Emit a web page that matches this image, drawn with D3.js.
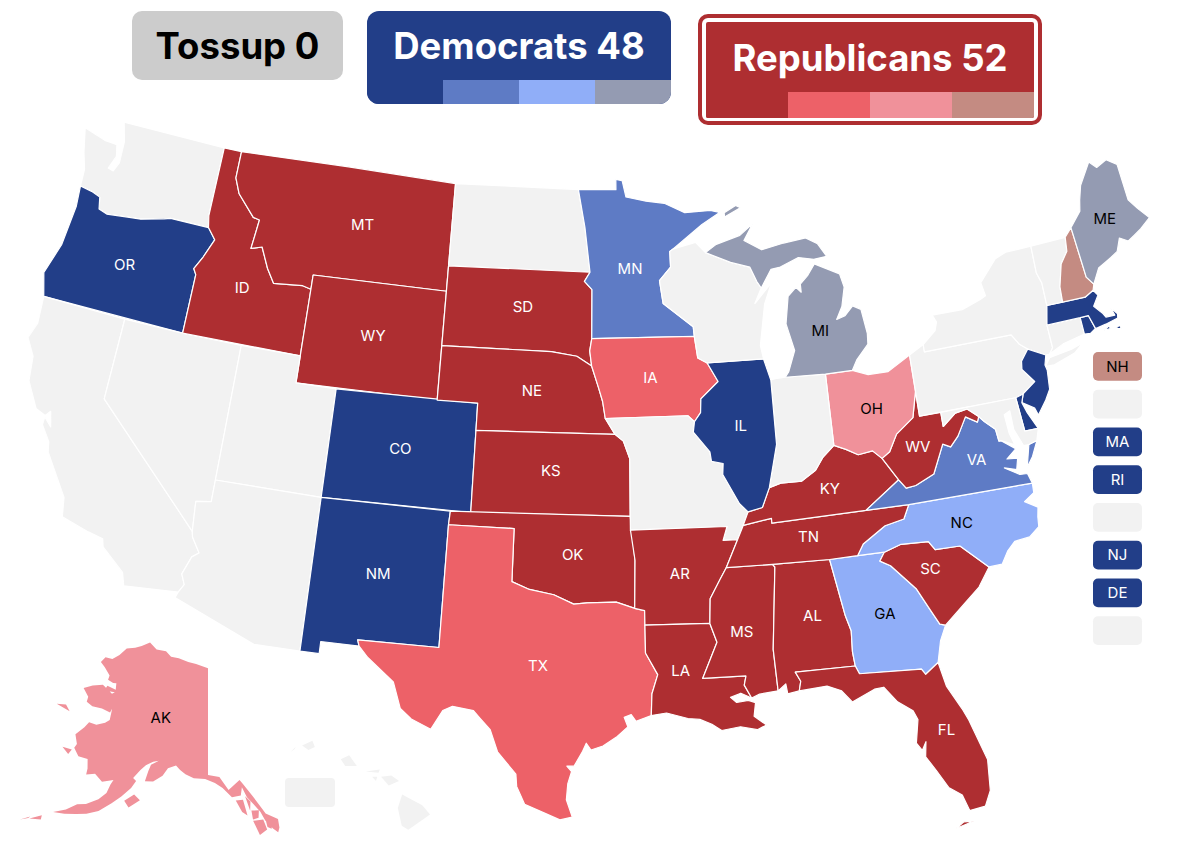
<!DOCTYPE html>
<html>
<head>
<meta charset="utf-8">
<script src="https://cdn.jsdelivr.net/npm/d3@7"></script>
<style>
  html, body { margin: 0; background: #fff; }
  text { font-family: Inter, Roboto, sans-serif; }
</style>
</head>
<body>
<svg id="map" width="1178" height="857"></svg>
<script>
// Race ratings
const solidDem = ['OR', 'CO', 'NM', 'IL', 'MA', 'RI', 'NJ', 'DE'];
const likelyDem = ['MN', 'VA'];
const leanDem = ['NC', 'GA'];
const tiltDem = ['MI', 'ME'];
const solidRep = ['ID', 'MT', 'WY', 'SD', 'NE', 'KS', 'OK', 'AR', 'LA', 'MS', 'AL', 'TN', 'KY', 'WV', 'SC', 'FL'];
const likelyRep = ['IA', 'TX'];
const leanRep = ['OH', 'AK'];
const tiltRep = ['NH'];

const sideStates = ['NH', 'VT', 'MA', 'RI', 'CT', 'NJ', 'DE', 'MD'];
const demSwatches = ['solid', 'likely', 'lean', 'tilt'];
const repSwatches = ['solid', 'likely', 'lean', 'tilt'];
const tossupSeats = 0;
const demSeats = 48;
const repSeats = 52;

// State outlines, lon/lat rings
const outlines = {
  WA: [[[-124.73,48.38],[-123.5,48.15],[-122.8,48.12],[-122.65,47.7],[-122.9,47.2],[-122.6,47.15],[-122.4,47.5],[-122.45,48.3],[-122.76,49],[-117.03,49],[-117.04,46.42],[-116.92,45.99],[-118.98,46],[-119.3,45.93],[-120.5,45.7],[-121.2,45.65],[-122.3,45.55],[-122.76,45.65],[-122.9,46.08],[-123.4,46.2],[-124.05,46.27],[-124.1,46.9],[-124.4,47.5]]],
  OR: [[[-124.2,42],[-124.55,42.84],[-124.1,44],[-123.95,45.5],[-124.05,46.27],[-123.4,46.2],[-122.9,46.08],[-122.76,45.65],[-122.3,45.55],[-121.2,45.65],[-120.5,45.7],[-119.3,45.93],[-118.98,46],[-116.92,45.99],[-116.46,45.6],[-116.85,44.9],[-117.2,44.4],[-117.03,44.2],[-117.03,42]]],
  CA: [[[-124.2,42],[-120,42],[-120,39],[-114.63,35],[-114.57,34.8],[-114.14,34.27],[-114.43,34.08],[-114.72,33.4],[-114.52,33.03],[-114.72,32.72],[-117.12,32.53],[-117.3,33],[-118.4,33.75],[-118.5,34.03],[-119.2,34.15],[-120.5,34.45],[-120.65,35.15],[-121.9,36.6],[-122,36.96],[-122.5,37.5],[-122.5,37.8],[-122.1,37.5],[-122.3,38.05],[-122.5,37.85],[-123,38],[-123.7,38.9],[-123.85,39.8],[-124.35,40.4],[-124.1,41]]],
  NV: [[[-120,42],[-117.03,42],[-114.04,42],[-114.04,36.2],[-114.74,36.1],[-114.63,35],[-120,39]]],
  ID: [[[-117.03,42],[-117.03,44.2],[-117.2,44.4],[-116.85,44.9],[-116.46,45.6],[-116.92,45.99],[-117.04,46.42],[-117.03,49],[-116.05,49],[-116.05,48],[-115.7,47.45],[-114.7,46.7],[-114.35,46.65],[-114.5,45.56],[-113.94,45.69],[-113.45,44.95],[-113,44.45],[-111.5,44.55],[-111.05,44.47],[-111.05,42]]],
  MT: [[[-116.05,49],[-104.05,49],[-104.05,45],[-111.05,45],[-111.05,44.47],[-111.5,44.55],[-113,44.45],[-113.45,44.95],[-113.94,45.69],[-114.5,45.56],[-114.35,46.65],[-114.7,46.7],[-115.7,47.45],[-116.05,48]]],
  WY: [[[-111.05,45],[-104.05,45],[-104.05,41],[-111.05,41]]],
  UT: [[[-114.04,42],[-111.05,42],[-111.05,41],[-109.05,41],[-109.05,37],[-114.04,37]]],
  CO: [[[-109.05,41],[-102.05,41],[-102.05,37],[-109.05,37]]],
  AZ: [[[-114.04,37],[-109.05,37],[-109.05,31.33],[-111.07,31.33],[-114.81,32.5],[-114.72,32.72],[-114.52,33.03],[-114.72,33.4],[-114.43,34.08],[-114.14,34.27],[-114.57,34.8],[-114.63,35],[-114.74,36.1],[-114.04,36.2]]],
  NM: [[[-109.05,37],[-103,37],[-103.04,36.5],[-103.06,32],[-106.62,32],[-106.53,31.78],[-108.21,31.78],[-108.21,31.33],[-109.05,31.33]]],
  ND: [[[-104.05,49],[-97.23,49],[-96.85,47.6],[-96.56,45.94],[-104.05,45.94]]],
  SD: [[[-104.05,45.94],[-96.56,45.94],[-96.85,45.6],[-96.45,45.3],[-96.45,43.5],[-96.55,43.05],[-96.45,42.5],[-97.2,42.85],[-98.5,43],[-104.05,43]]],
  NE: [[[-104.05,43],[-98.5,43],[-97.2,42.85],[-96.45,42.5],[-96.1,41.7],[-95.9,41.2],[-95.77,40.58],[-95.3,40],[-102.05,40],[-102.05,41],[-104.05,41]]],
  KS: [[[-102.05,40],[-95.3,40],[-94.9,39.75],[-94.6,39.1],[-94.62,37],[-102.05,37]]],
  OK: [[[-103,37],[-94.62,37],[-94.43,35.4],[-94.48,33.64],[-95.3,33.88],[-96.6,33.85],[-97.2,33.8],[-98.1,34.13],[-99.2,34.3],[-100,34.56],[-100,36.5],[-103.04,36.5]]],
  TX: [[[-106.62,32],[-103.06,32],[-103.04,36.5],[-100,36.5],[-100,34.56],[-99.2,34.3],[-98.1,34.13],[-97.2,33.8],[-96.6,33.85],[-95.3,33.88],[-94.48,33.64],[-94.04,33.55],[-94.04,33.02],[-94.04,32],[-93.53,31.2],[-93.8,30.5],[-93.85,29.7],[-94.5,29.5],[-94.7,29.75],[-95,29.65],[-94.85,29.3],[-95.3,28.95],[-95.9,28.6],[-96.4,28.45],[-96.6,28.7],[-96.75,28.4],[-97.1,27.85],[-97.4,27.85],[-97.2,27.65],[-97.35,27.2],[-97.4,26.6],[-97.15,25.96],[-97.65,25.85],[-98.3,26.1],[-99.1,26.4],[-99.45,27.05],[-99.5,27.5],[-100.3,28.3],[-100.65,29.1],[-101.1,29.5],[-101.4,29.77],[-102.3,29.88],[-102.7,29.7],[-103.15,28.98],[-104,29.3],[-104.5,29.65],[-104.9,30.6],[-106.1,31.4],[-106.53,31.78]]],
  MN: [[[-97.23,49],[-95.15,49],[-95.15,49.38],[-94.8,49.33],[-94.6,48.72],[-93.5,48.55],[-92.5,48.45],[-91.4,48.07],[-90,48.1],[-89.5,48],[-90.5,47.6],[-92.1,46.75],[-92.3,46.66],[-92.29,46.08],[-92.9,45.6],[-92.75,44.75],[-91.25,43.85],[-91.22,43.5],[-96.45,43.5],[-96.45,45.3],[-96.85,45.6],[-96.56,45.94],[-96.85,47.6]]],
  IA: [[[-96.45,43.5],[-91.22,43.5],[-91.1,42.7],[-90.64,42.5],[-90.15,41.8],[-91.05,41.2],[-91.1,40.7],[-91.42,40.38],[-91.73,40.61],[-95.77,40.58],[-95.9,41.2],[-96.1,41.7],[-96.45,42.5],[-96.55,43.05]]],
  MO: [[[-95.77,40.58],[-91.73,40.61],[-91.42,40.38],[-91.5,40],[-90.75,39.25],[-90.7,38.9],[-90.15,38.8],[-90.2,38.4],[-89.5,37.3],[-89.13,36.98],[-89.4,36.5],[-89.7,36],[-90.37,36],[-90.15,36.5],[-94.62,36.5],[-94.62,37],[-94.6,39.1],[-94.9,39.75],[-95.3,40]]],
  AR: [[[-94.62,36.5],[-90.15,36.5],[-90.37,36],[-89.7,36],[-90.3,35],[-90.6,34.6],[-91.1,33.9],[-91.17,33],[-94.04,33.02],[-94.04,33.55],[-94.48,33.64],[-94.43,35.4]]],
  LA: [[[-94.04,33.02],[-91.17,33],[-90.9,32.3],[-91.6,31],[-89.73,31],[-89.83,30.67],[-89.55,30.18],[-90,30.38],[-90.45,30.25],[-90.2,30.05],[-89.7,30.1],[-89.4,30],[-89.5,29.5],[-89,29.15],[-89.4,29],[-90.1,29.15],[-90.9,29.05],[-91.3,29.3],[-91.8,29.5],[-92.3,29.55],[-93.2,29.78],[-93.85,29.7],[-93.8,30.5],[-93.53,31.2],[-94.04,32]]],
  MS: [[[-90.3,35],[-88.2,35],[-88.1,34.9],[-88.47,31.9],[-88.4,30.37],[-89.2,30.3],[-89.55,30.18],[-89.83,30.67],[-89.73,31],[-91.6,31],[-90.9,32.3],[-91.17,33],[-91.1,33.9],[-90.6,34.6]]],
  AL: [[[-88.2,35],[-85.6,34.98],[-85.18,32.87],[-85,32.3],[-85.05,31.54],[-85,31],[-87.6,31],[-87.4,30.65],[-87.5,30.3],[-88,30.23],[-88.05,30.6],[-88.4,30.37],[-88.47,31.9],[-88.1,34.9]]],
  GA: [[[-85.6,34.98],[-83.1,35],[-83.35,34.7],[-82.9,34.48],[-81.9,33.5],[-81.4,32.6],[-81.12,32.1],[-80.88,32.03],[-81.2,31.5],[-81.45,30.72],[-82.05,30.36],[-82.2,30.57],[-84.86,30.7],[-85,31],[-85.05,31.54],[-85,32.3],[-85.18,32.87]]],
  FL: [[[-87.6,31],[-85,31],[-84.86,30.7],[-82.2,30.57],[-82.05,30.36],[-81.45,30.72],[-81.25,29.8],[-80.75,28.9],[-80.55,28.45],[-80.05,26.9],[-80.15,25.75],[-80.45,25.2],[-81.1,25.13],[-81.3,25.75],[-81.8,26.1],[-82.2,26.8],[-82.55,27.35],[-82.45,27.9],[-82.65,27.6],[-82.85,27.9],[-82.65,28.75],[-82.8,29.1],[-83.4,29.5],[-83.9,30.1],[-84.3,30.07],[-85.3,29.7],[-85.7,30.15],[-86.3,30.38],[-87.5,30.3],[-87.4,30.65]],
       [[-81.75,24.55],[-81,24.72],[-81.4,24.75]]],
  SC: [[[-83.1,35],[-82.3,35.2],[-81.05,35.15],[-80.8,34.82],[-79.67,34.8],[-78.55,33.86],[-79.15,33.2],[-79.9,32.7],[-80.88,32.03],[-81.12,32.1],[-81.4,32.6],[-81.9,33.5],[-82.9,34.48],[-83.35,34.7]]],
  NC: [[[-84.32,35],[-83.1,35],[-82.3,35.2],[-81.05,35.15],[-80.8,34.82],[-79.67,34.8],[-78.55,33.86],[-77.95,33.87],[-77.6,34.3],[-77.2,34.6],[-76.5,34.65],[-76,34.95],[-75.95,35.3],[-75.85,35.65],[-76.4,35.95],[-75.9,36.2],[-75.87,36.55],[-81.68,36.59],[-82,36.1],[-82.9,35.95],[-84,35.4]]],
  TN: [[[-90.3,35],[-88.2,35],[-85.6,34.98],[-84.32,35],[-84,35.4],[-82.9,35.95],[-82,36.1],[-81.68,36.59],[-83.68,36.6],[-88.07,36.5],[-88.07,36.68],[-89.4,36.5],[-89.7,36]]],
  KY: [[[-89.4,36.5],[-88.07,36.68],[-88.07,36.5],[-83.68,36.6],[-81.97,37.54],[-82.6,38.4],[-83,38.72],[-83.7,38.65],[-84.25,38.9],[-84.8,39.1],[-85.4,38.7],[-85.8,38.27],[-86.5,37.93],[-87.5,37.93],[-88.05,37.8],[-88.45,37.1],[-89.13,36.98]]],
  VA: [[[-83.68,36.6],[-81.68,36.59],[-75.87,36.55],[-76,36.93],[-76.35,36.95],[-77,37.3],[-76.45,37.15],[-76.3,37.55],[-76.8,37.6],[-76.3,37.9],[-76.9,38.3],[-77,38.3],[-77.05,38.75],[-77.5,39.1],[-77.72,39.32],[-77.83,39.13],[-78.35,39.4],[-78.87,38.76],[-79.3,38.42],[-79.65,38.57],[-80.3,37.55],[-81.22,37.24],[-81.68,37.2],[-81.97,37.54]],
       [[-75.95,37.15],[-75.65,37.95],[-75.24,38.03],[-75.6,37.5]]],
  WV: [[[-81.97,37.54],[-81.68,37.2],[-81.22,37.24],[-80.3,37.55],[-79.65,38.57],[-79.3,38.42],[-78.87,38.76],[-78.35,39.4],[-77.83,39.13],[-77.72,39.32],[-78.2,39.67],[-78.8,39.6],[-79.48,39.2],[-79.48,39.72],[-80.52,39.72],[-80.52,40.64],[-80.85,39.7],[-81.75,39.2],[-82.2,38.6],[-82.6,38.4]]],
  OH: [[[-84.8,41.72],[-83.45,41.73],[-82.7,41.5],[-81.7,41.5],[-80.52,41.98],[-80.52,40.64],[-80.85,39.7],[-81.75,39.2],[-82.2,38.6],[-82.6,38.4],[-83,38.72],[-83.7,38.65],[-84.25,38.9],[-84.8,39.1]]],
  IN: [[[-87.53,41.71],[-87.2,41.75],[-86.8,41.76],[-84.8,41.72],[-84.8,39.1],[-85.4,38.7],[-85.8,38.27],[-86.5,37.93],[-87.5,37.93],[-88.05,37.8],[-87.53,39.35]]],
  IL: [[[-90.64,42.5],[-87.8,42.5],[-87.53,41.71],[-87.53,39.35],[-88.05,37.8],[-88.45,37.1],[-89.13,36.98],[-89.5,37.3],[-90.2,38.4],[-90.15,38.8],[-90.7,38.9],[-90.75,39.25],[-91.5,40],[-91.42,40.38],[-91.1,40.7],[-91.05,41.2],[-90.15,41.8]]],
  WI: [[[-92.1,46.75],[-90.9,46.95],[-90.4,46.55],[-89.1,46.13],[-88.1,45.9],[-87.8,45.35],[-87.6,45.1],[-88,44.55],[-87.05,45.25],[-87.5,44.5],[-87.9,43],[-87.8,42.5],[-90.64,42.5],[-91.1,42.7],[-91.22,43.5],[-91.25,43.85],[-92.75,44.75],[-92.9,45.6],[-92.29,46.08],[-92.3,46.66]]],
  MI: [[[-90.4,46.55],[-89.8,46.83],[-88.5,47.1],[-87.75,47.5],[-88.3,46.9],[-87.4,46.5],[-86.2,46.67],[-85,46.77],[-84.4,46.5],[-84,46],[-84.7,45.95],[-85.5,46.08],[-86.5,45.8],[-87,45.75],[-87.6,45.1],[-87.8,45.35],[-88.1,45.9],[-89.1,46.13]],
       [[-86.8,41.76],[-84.8,41.72],[-83.45,41.73],[-83.15,42.1],[-82.5,42.6],[-82.45,43],[-82.6,43.9],[-83,44.07],[-83.45,43.75],[-83.9,43.65],[-83.55,44.1],[-83.3,44.8],[-83.45,45.3],[-84.7,45.78],[-85.1,45.4],[-85.55,45.1],[-85.55,44.8],[-85.8,45],[-86.25,44.7],[-86.5,43.7],[-86.2,42.7],[-86.6,41.95]],
       [[-89.25,47.82],[-88.35,48.12],[-88.6,48.22],[-89.25,47.98]]],
  PA: [[[-80.52,41.98],[-79.76,42.27],[-79.76,42],[-75.35,42],[-75.05,41.6],[-74.7,41.36],[-75.13,40.98],[-75.2,40.68],[-74.72,40.15],[-75.4,39.8],[-75.79,39.72],[-80.52,39.72]]],
  NY: [[[-79.76,42.27],[-79.05,42.7],[-78.9,43],[-79.05,43.27],[-77.5,43.27],[-76.5,43.5],[-76.2,43.6],[-76.3,44.1],[-75.3,44.85],[-74.7,45],[-73.35,45],[-73.4,44],[-73.25,43.6],[-73.27,42.75],[-73.5,42.05],[-73.49,41.2],[-73.7,41],[-73.9,41],[-74.7,41.36],[-75.05,41.6],[-75.35,42],[-79.76,42]],
       [[-74.03,40.6],[-73.75,40.87],[-72.6,40.98],[-72,41.1],[-72.5,40.82],[-73.6,40.58]]],
  NJ: [[[-74.7,41.36],[-73.9,41],[-74.05,40.65],[-74,40.45],[-74.1,39.75],[-74.4,39.4],[-74.9,38.93],[-75,39.2],[-75.55,39.5],[-75.4,39.8],[-74.72,40.15],[-75.2,40.68],[-75.13,40.98]]],
  DE: [[[-75.79,39.72],[-75.4,39.8],[-75.55,39.5],[-75.4,39.1],[-75.05,38.45],[-75.7,38.46]]],
  MD: [[[-79.48,39.72],[-75.79,39.72],[-75.7,38.46],[-75.05,38.45],[-75.24,38.03],[-75.65,37.95],[-75.9,37.95],[-76.2,38.6],[-76.2,39.3],[-76.5,39.2],[-76.45,38.5],[-76.3,38.05],[-76.9,38.3],[-77,38.3],[-77.05,38.75],[-77.5,39.1],[-77.72,39.32],[-78.2,39.67],[-78.8,39.6],[-79.48,39.2]]],
  CT: [[[-73.7,41],[-73.49,41.2],[-73.5,42.05],[-71.8,42.02],[-71.8,41.4],[-72.9,41.25]]],
  RI: [[[-71.8,42.02],[-71.38,42.02],[-71.2,41.5],[-71.5,41.37],[-71.8,41.4]]],
  MA: [[[-73.5,42.05],[-73.27,42.75],[-71.3,42.7],[-70.82,42.87],[-70.65,42.65],[-71,42.3],[-70.65,41.95],[-70.55,41.8],[-70.1,41.78],[-70.2,42.08],[-69.95,41.8],[-70,41.65],[-70.65,41.55],[-71.1,41.5],[-71.2,41.5],[-71.38,42.02],[-71.8,42.02]],
       [[-70.8,41.35],[-70.5,41.47],[-70.5,41.35]],[[-70.25,41.3],[-70,41.38],[-69.97,41.25]]],
  VT: [[[-73.35,45],[-71.5,45.01],[-71.6,44.5],[-72.05,44.1],[-72.4,43.3],[-72.46,42.73],[-73.27,42.75],[-73.25,43.6],[-73.4,44]]],
  NH: [[[-71.5,45.01],[-71.08,45.3],[-70.98,43.4],[-70.7,43.08],[-70.82,42.87],[-71.3,42.7],[-72.46,42.73],[-72.4,43.3],[-72.05,44.1],[-71.6,44.5]]],
  ME: [[[-71.08,45.3],[-70.4,45.8],[-70.25,46.2],[-70,46.7],[-69.23,47.46],[-68.9,47.18],[-68.3,47.36],[-67.8,47.07],[-67.79,45.7],[-67.45,45.3],[-67,44.85],[-67.6,44.55],[-68,44.4],[-68.4,44.25],[-68.8,44.45],[-69.1,44],[-69.5,43.85],[-69.8,43.75],[-70.25,43.6],[-70.7,43.08],[-70.98,43.4]]],
  HI: [[[-155.88,20.25],[-155.1,19.85],[-154.8,19.5],[-155.65,18.95],[-155.9,19.1],[-156.05,19.75]],
       [[-156.7,20.9],[-156.3,20.95],[-156,20.75],[-156.4,20.58]],
       [[-157.3,21.1],[-156.75,21.17],[-156.8,21.05]],
       [[-157.05,20.9],[-156.85,20.9],[-156.9,20.75]],
       [[-158.28,21.55],[-157.95,21.7],[-157.65,21.3],[-158.1,21.3]],
       [[-159.8,22.05],[-159.4,22.23],[-159.3,22],[-159.55,21.88]],
       [[-160.25,21.8],[-160.05,22],[-160.1,21.9]]],
  AK: [[[-141,69.65],[-144,70],[-146,70.15],[-148.5,70.4],[-150.5,70.45],[-152,70.85],[-154.5,70.85],[-156.6,71.35],[-158.5,70.85],[-160,70.55],[-162,70.25],[-163.2,69.5],[-164.5,68.95],[-166.2,68.88],[-166.8,68.35],[-165.5,68.05],[-163.8,67.5],[-163.8,67.1],[-162.5,66.98],[-161.8,67.05],[-161.5,66.5],[-163.5,66.6],[-163.8,66.1],[-161.5,66.25],[-162,66.05],[-164.5,66.55],[-166.5,66.15],[-168.1,65.65],[-166.5,65.1],[-166.4,64.65],[-165,64.45],[-163,64.55],[-161.2,64.45],[-161,64.8],[-160.8,63.8],[-161.5,63.45],[-163,63.05],[-164.5,63.05],[-165,62.5],[-166.1,61.65],[-165.2,60.9],[-165.4,60.5],[-164.2,59.95],[-162.5,59.98],[-162,59.2],[-161.9,58.65],[-160.5,58.95],[-159,58.45],[-157.2,58.85],[-157.5,58.4],[-157.8,57.6],[-158.8,56.9],[-160.5,56.2],[-161.8,55.95],[-163.2,55.2],[-164.9,54.6],[-163.2,54.8],[-161.5,55.1],[-160,55.4],[-158.3,55.9],[-156.6,56.85],[-155.3,57.6],[-154,58.5],[-153.4,59.2],[-154,59.4],[-153,60.2],[-152.2,60.7],[-151,61.1],[-150,61.25],[-151.3,60.8],[-151.6,60.2],[-151.9,59.3],[-150.5,59.4],[-149,60],[-148.2,60.7],[-146.8,61],[-146,60.65],[-145,60.3],[-143.5,60],[-141.5,59.95],[-139.8,59.6],[-138.5,59.15],[-137,58.3],[-135.5,58.4],[-135.2,59.1],[-134.5,58.2],[-133.5,57.5],[-132.6,56.8],[-132,56],[-131,55.2],[-130.3,54.8],[-130,55.2],[-130,55.95],[-131.8,56.6],[-132.2,57],[-133.5,58.2],[-135,59.4],[-135.5,59.75],[-137.5,58.95],[-139,60.1],[-141,60.3]],
       [[-154.7,57.3],[-153.3,58],[-152.2,57.6],[-153.8,56.8]],
       [[-171.7,63.4],[-168.8,63.3],[-170,63.7]],
       [[-167.4,60.2],[-165.7,60.3],[-166,59.8]],
       [[-167.8,53.3],[-166.3,54],[-166.2,53.6]],
       [[-169,52.9],[-167.8,53.5],[-168,53.3]],
       [[-174.9,52.05],[-174,52.4],[-174,52.1]],
       [[-176.9,51.6],[-176.4,51.95],[-176.4,51.7]],
       [[-136.4,58],[-135.2,58],[-134.7,56.6],[-135.5,56.95]],
       [[-134.8,58.3],[-134,57.8],[-134.2,57]],
       [[-134,57],[-132.8,56.95],[-133,56.3],[-133.9,56.2]],
       [[-133.9,56.1],[-132.3,56.1],[-131.9,55.2],[-133.1,54.8]],
       [[-131.9,55.9],[-131,55.9],[-131.2,55.2],[-131.8,55.4]]]
};

const colors = {
  none: '#f2f2f2',
  demsolid: '#223e88', demlikely: '#5e7bc5', demlean: '#90aef8', demtilt: '#949bb2',
  repsolid: '#ae2e31', replikely: '#ed6168', replean: '#f0919a', reptilt: '#c48b82'
};

const ratingOf = {};
[['demsolid', solidDem], ['demlikely', likelyDem], ['demlean', leanDem], ['demtilt', tiltDem],
 ['repsolid', solidRep], ['replikely', likelyRep], ['replean', leanRep], ['reptilt', tiltRep]]
  .forEach(([key, list]) => list.forEach((s) => { ratingOf[s] = key; }));

const fillOf = (s) => colors[ratingOf[s] || 'none'];
const darkText = new Set(['demlean', 'demtilt', 'replean', 'reptilt']);
const textOf = (s) => (!ratingOf[s] || darkText.has(ratingOf[s]) ? '#000' : '#fff');

const features = Object.keys(outlines).map((id) => {
  const feature = {
    type: 'Feature',
    id,
    geometry: { type: 'MultiPolygon', coordinates: outlines[id].map((ring) => [[...ring, ring[0]]]) },
  };
  // fix ring winding so d3 does not fill the rest of the globe
  feature.geometry.coordinates.forEach((poly) => {
    if (d3.geoArea({ type: 'Polygon', coordinates: poly }) > 2 * Math.PI) poly[0].reverse();
  });
  return feature;
});

const svg = d3.select('#map');

// lower 48 plus its own insets for Alaska and Hawaii
const lower48 = d3.geoAlbers().scale(1556).translate([588, 470]);
const alaska = d3.geoConicEqualArea().rotate([141, 0]).parallels([55, 65]).center([0, 60.3]).scale(655).translate([208, 775]);
const hawaii = d3.geoConicEqualArea().rotate([157, 0]).parallels([8, 18]).center([1.5, 19.6]).scale(1560).translate([412, 812]);
const paths = {
  AK: d3.geoPath(alaska),
  HI: d3.geoPath(hawaii),
};
const pathOf = (d) => paths[d.id] || d3.geoPath(lower48);

svg.append('g')
  .selectAll('path')
  .data(features)
  .join('path')
  .attr('d', (d) => pathOf(d)(d))
  .attr('fill', (d) => fillOf(d.id))
  .attr('stroke', (d) => (d.id === 'AK' || d.id === 'HI' ? 'none' : '#fff'))
  .attr('stroke-width', 1.2)
  .attr('stroke-linejoin', 'round');

// small tweaks where the label does not sit on the centroid
const labelNudge = {
  OR: [-3, 0], ID: [0, 8], MT: [15, 2], WY: [0, -2], SD: [4, -4], NE: [8, 1], KS: [0, -3], OK: [5, 1],
  TX: [14, -1], CO: [-1, -2], NM: [2, -2], MN: [-3, 6], IA: [0, 1], AR: [1, 1], LA: [-14, -8], MS: [-3, 4],
  AL: [4, -7], GA: [-1, -3], FL: [23, 7], TN: [-2, -1], KY: [1, 0], IL: [0, -2], MI: [14, 25], OH: [1, 1],
  WV: [-5, 2], VA: [13, -9], NC: [-3, -1], SC: [-8, -7], ME: [1, 2], AK: [10, -10],
};
const labelled = new Set([...solidDem, ...likelyDem, ...leanDem, ...tiltDem, ...solidRep, ...likelyRep, ...leanRep]);
sideStates.forEach((s) => labelled.delete(s));

svg.append('g')
  .selectAll('text')
  .data(features.filter((d) => labelled.has(d.id)))
  .join('text')
  .attr('x', (d) => pathOf(d).centroid(d)[0] + (labelNudge[d.id] ? labelNudge[d.id][0] : 0))
  .attr('y', (d) => pathOf(d).centroid(d)[1] + (labelNudge[d.id] ? labelNudge[d.id][1] : 0))
  .attr('dy', '0.35em')
  .attr('text-anchor', 'middle')
  .attr('font-size', 15)
  .attr('fill', (d) => textOf(d.id))
  .text((d) => d.id);

// boxes for the small north-eastern states
const sideY = d3.scaleBand().domain(sideStates).range([352, 645]).paddingInner(0.24);
const sideBoxes = svg.append('g').selectAll('g').data(sideStates).join('g')
  .attr('transform', (d) => `translate(1093, ${sideY(d)})`);
sideBoxes.append('rect')
  .attr('width', 49)
  .attr('height', sideY.bandwidth())
  .attr('rx', 5)
  .attr('fill', fillOf);
sideBoxes.filter((d) => ratingOf[d]).append('text')
  .attr('x', 24.5)
  .attr('y', sideY.bandwidth() / 2)
  .attr('dy', '0.35em')
  .attr('text-anchor', 'middle')
  .attr('font-size', 15)
  .attr('fill', textOf)
  .text((d) => d);

// empty Hawaii box
svg.append('rect')
  .attr('x', 285).attr('y', 778).attr('width', 50).attr('height', 29).attr('rx', 4)
  .attr('fill', colors.none);

// seat count boxes
function seatBox(g, x, y, w, h, headH, party, swatches, label, textColor, radius) {
  const clipId = `clip-${party || 'toss'}`;
  g.append('clipPath').attr('id', clipId)
    .append('rect').attr('x', x).attr('y', y).attr('width', w).attr('height', h).attr('rx', radius);
  const inner = g.append('g').attr('clip-path', `url(#${clipId})`);
  inner.append('rect').attr('x', x).attr('y', y).attr('width', w).attr('height', h)
    .attr('fill', party ? colors[party + 'solid'] : '#cccccc');
  if (party) {
    const band = d3.scaleBand().domain(swatches).range([x, x + w]);
    inner.selectAll('.swatch').data(swatches).join('rect')
      .attr('x', (d) => band(d))
      .attr('y', y + headH)
      .attr('width', band.bandwidth())
      .attr('height', h - headH)
      .attr('fill', (d) => colors[party + d]);
  }
  g.append('text')
    .attr('x', x + w / 2)
    .attr('y', y + headH / 2 + 1)
    .attr('dy', '0.35em')
    .attr('text-anchor', 'middle')
    .attr('font-size', 36.5)
    .attr('font-weight', 700)
    .attr('fill', textColor)
    .text(label);
}

const legend = svg.append('g');
seatBox(legend, 132, 11, 211, 69, 69, null, [], `Tossup ${tossupSeats}`, '#000', 10);
seatBox(legend, 367, 11, 304, 93, 69, 'dem', demSwatches, `Democrats ${demSeats}`, '#fff', 12);
legend.append('rect')
  .attr('x', 700).attr('y', 16).attr('width', 340).attr('height', 107).attr('rx', 8)
  .attr('fill', '#fff').attr('stroke', colors.repsolid).attr('stroke-width', 4);
seatBox(legend, 706, 22, 328, 96, 70, 'rep', repSwatches, `Republicans ${repSeats}`, '#fff', 2);
</script>
</body>
</html>
